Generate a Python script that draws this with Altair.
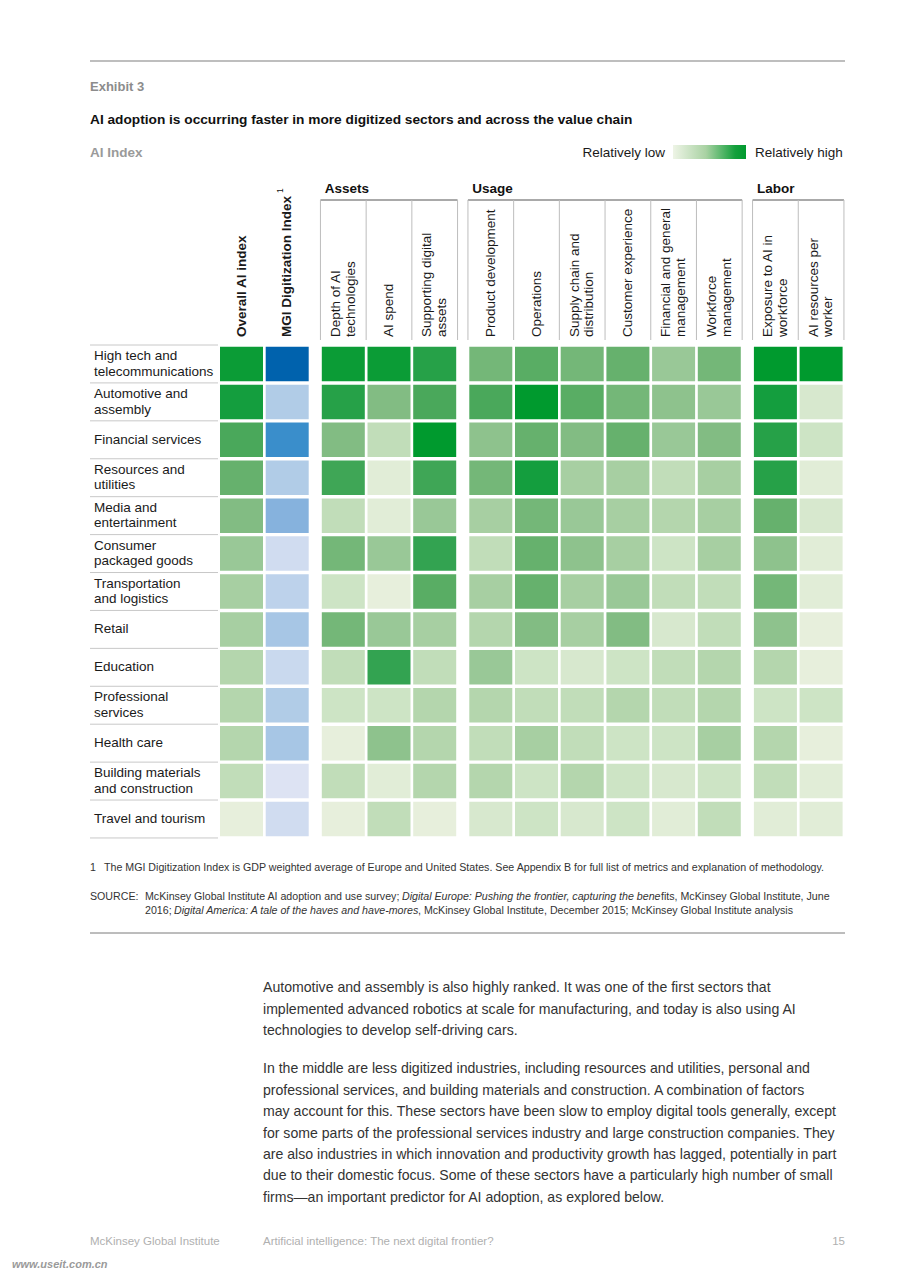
import altair as alt
import pandas as pd

# ---------------- data ----------------
sectors = [
    "High tech and\ntelecommunications", "Automotive and\nassembly", "Financial services",
    "Resources and\nutilities", "Media and\nentertainment", "Consumer\npackaged goods",
    "Transportation\nand logistics", "Retail", "Education", "Professional\nservices",
    "Health care", "Building materials\nand construction", "Travel and tourism",
]

metrics = [
    "Overall AI index", "MGI Digitization Index",
    "Depth of AI\ntechnologies", "AI spend", "Supporting digital\nassets",
    "Product development", "Operations", "Supply chain and\ndistribution",
    "Customer experience", "Financial and general\nmanagement", "Workforce\nmanagement",
    "Exposure to AI in\nworkforce", "AI resources per\nworker",
]
metric_group = [0, 0, 1, 1, 1, 2, 2, 2, 2, 2, 2, 3, 3]
group_names = ["", "Assets", "Usage", "Labor"]

# relative intensity 0 (low) .. 10 (high)
overall_ai       = [9.5, 9.0, 7.0, 6.0, 5.0, 4.0, 3.5, 3.5, 3.0, 3.0, 3.0, 2.5, 0.5]
mgi_digitization = [10, 3.0, 7.5, 3.0, 5.0, 1.5, 2.5, 3.5, 2.0, 3.0, 3.5, 0.5, 1.5]
depth_ai         = [9.5, 8.5, 5.0, 7.5, 2.5, 5.5, 2.0, 5.5, 2.5, 2.0, 0.5, 2.5, 0.5]
ai_spend         = [9.5, 5.0, 2.5, 1.0, 1.0, 4.0, 0.5, 4.0, 8.0, 2.0, 4.5, 1.0, 2.5]
digital_assets   = [8.5, 7.0, 10, 7.5, 4.0, 8.0, 6.5, 3.5, 2.5, 3.0, 3.0, 3.0, 0.5]
product_dev      = [5.5, 7.0, 4.5, 5.5, 3.5, 2.5, 3.5, 3.0, 4.0, 3.0, 2.5, 3.0, 1.5]
operations       = [6.5, 10, 6.0, 9.0, 5.5, 6.0, 6.0, 5.0, 2.0, 2.5, 3.5, 2.0, 2.0]
supply_chain     = [5.5, 6.5, 5.0, 3.5, 4.0, 4.5, 3.5, 3.5, 1.5, 2.5, 2.5, 3.0, 1.5]
customer_exp     = [6.0, 5.5, 6.0, 3.5, 3.5, 3.5, 4.0, 5.0, 2.0, 3.0, 2.0, 2.0, 2.0]
fin_management   = [4.0, 4.5, 4.0, 2.5, 3.0, 2.0, 2.5, 1.5, 2.5, 2.5, 2.0, 1.5, 1.0]
workforce_mgmt   = [5.5, 4.0, 5.0, 3.5, 3.5, 3.5, 2.5, 2.5, 3.0, 3.0, 3.5, 2.0, 2.5]
exposure_ai      = [10, 9.0, 8.5, 8.5, 6.0, 4.5, 5.5, 4.5, 3.0, 2.0, 3.0, 2.5, 1.0]
ai_res_worker    = [10, 1.5, 2.0, 1.0, 1.5, 1.0, 1.0, 0.5, 0.5, 2.0, 0.5, 1.0, 1.0]

columns_values = [overall_ai, mgi_digitization, depth_ai, ai_spend, digital_assets,
                  product_dev, operations, supply_chain, customer_exp, fin_management,
                  workforce_mgmt, exposure_ai, ai_res_worker]

title_text = "AI adoption is occurring faster in more digitized sectors and across the value chain"
footnote_text = ("The MGI Digitization Index is GDP weighted average of Europe and United States. "
                 "See Appendix B for full list of metrics and explanation of methodology.")
body_lines = [
    "Automotive and assembly is also highly ranked. It was one of the first sectors that",
    "implemented advanced robotics at scale for manufacturing, and today is also using AI",
    "technologies to develop self-driving cars.",
    "In the middle are less digitized industries, including resources and utilities, personal and",
    "professional services, and building materials and construction. A combination of factors",
    "may account for this. These sectors have been slow to employ digital tools generally, except",
    "for some parts of the professional services industry and large construction companies. They",
    "are also industries in which innovation and productivity growth has lagged, potentially in part",
    "due to their domestic focus. Some of these sectors have a particularly high number of small",
    "firms\u2014an important predictor for AI adoption, as explored below.",
]

# ---------------- layout ----------------
MARGIN = 8
W, H = 889, 1264
STEP = 45.7
X0 = 220 - MARGIN
EXTRA = 10.4 / STEP
CW = 43 / STEP
ROWH = 37.92
Y0 = 345 - MARGIN
FONT = "Liberation Sans"
ROW_LH = 15.5
HDR_LH = 14.5

xscale = alt.Scale(domain=[-X0 / STEP, (W - X0) / STEP], nice=False, zero=False)
yscale = alt.Scale(domain=[-Y0 / ROWH, (H - Y0) / ROWH], nice=False, zero=False, reverse=True)

green_dom = [0, 1, 2, 3, 4, 5, 6, 7, 8, 9, 10]
green_rng = ["#ecf2e2", "#e1edd7", "#cde4c5", "#b4d6ad", "#99c897", "#82bc83",
             "#66b16d", "#4aa85b", "#33a351", "#149e3e", "#009a2e"]
blue_dom = [0, 2, 3, 4, 5, 7.5, 10]
blue_rng = ["#e3e6f4", "#c9d9ee", "#b1cce7", "#9dc0e3", "#86b2dd", "#3a8ecb", "#0062ad"]

col_x = [j + EXTRA * g for j, g in enumerate(metric_group)]

cells = []
for j, vals in enumerate(columns_values):
    for i, v in enumerate(vals):
        cells.append({"metric": metrics[j].replace("\n", " "), "sector": sectors[i].replace("\n", " "),
                      "v": v, "x0": col_x[j], "x1": col_x[j] + CW,
                      "y0": i + 0.045, "y1": i + 0.955,
                      "kind": "blue" if j == 1 else "green"})
cells = pd.DataFrame(cells)

base_cells = alt.Chart(cells).mark_rect().encode(
    x=alt.X("x0:Q", scale=xscale, axis=None),
    x2="x1:Q",
    y=alt.Y("y0:Q", scale=yscale, axis=None),
    y2="y1:Q",
    tooltip=["sector:N", "metric:N", "v:Q"],
)
green_layer = base_cells.transform_filter("datum.kind == 'green'").encode(
    color=alt.Color("v:Q", scale=alt.Scale(domain=green_dom, range=green_rng), legend=None))
blue_layer = base_cells.transform_filter("datum.kind == 'blue'").encode(
    color=alt.Color("v:Q", scale=alt.Scale(domain=blue_dom, range=blue_rng), legend=None))

# row labels (multi-line blocks centred in their row) + separators
rows_df = pd.DataFrame({
    "sector": sectors,
    "yc": [i + 0.5 - (s.count("\n") * ROW_LH / 2) / ROWH for i, s in enumerate(sectors)],
})
row_labels = alt.Chart(rows_df).mark_text(
    align="left", baseline="middle", lineBreak="\n", lineHeight=ROW_LH,
    font=FONT, fontSize=13.5, color="#1a1a1a"
).encode(x=alt.value(94 - MARGIN), y=alt.Y("yc:Q", scale=yscale, axis=None), text="sector:N")

sep_df = pd.DataFrame({"yb": list(range(len(sectors) + 1))})
row_seps = alt.Chart(sep_df).mark_rule(color="#c8c8c8", strokeWidth=1).encode(
    x=alt.value(90 - MARGIN), x2=alt.value(218 - MARGIN),
    y=alt.Y("yb:Q", scale=yscale, axis=None))

# column headers (rotated; multi-line blocks centred on their column)
hdr_df = pd.DataFrame({
    "metric": metrics,
    "xc": [x + CW / 2 - (m.count("\n") * HDR_LH / 2) / STEP for x, m in zip(col_x, metrics)],
    "bold": [j < 2 for j in range(len(metrics))],
})
hdr_common = dict(align="left", baseline="middle", angle=270, lineBreak="\n",
                  lineHeight=HDR_LH, font=FONT, fontSize=13.5, color="#1a1a1a")
hdr_normal = alt.Chart(hdr_df).transform_filter("!datum.bold").mark_text(**hdr_common).encode(
    x=alt.X("xc:Q", scale=xscale, axis=None), y=alt.value(337 - MARGIN), text="metric:N")
hdr_bold = alt.Chart(hdr_df).transform_filter("datum.bold").mark_text(
    fontWeight="bold", **hdr_common).encode(
    x=alt.X("xc:Q", scale=xscale, axis=None), y=alt.value(337 - MARGIN), text="metric:N")

half_gap = (1 - CW) / 2
vlines, hlines = [], []
for g in (1, 2, 3):
    js = [j for j, gg in enumerate(metric_group) if gg == g]
    for j in js:
        vlines.append({"xb": col_x[j] - half_gap})
    right = col_x[js[-1]] + CW + half_gap
    vlines.append({"xb": right})
    hlines.append({"xs": col_x[js[0]] - half_gap, "xe": right})
vlines = pd.DataFrame(vlines)
hlines = pd.DataFrame(hlines)
hdr_vrules = alt.Chart(vlines).mark_rule(color="#bdbdbd", strokeWidth=1).encode(
    x=alt.X("xb:Q", scale=xscale, axis=None), y=alt.value(200 - MARGIN), y2=alt.value(340 - MARGIN))
hdr_hrules = alt.Chart(hlines).mark_rule(color="#555555", strokeWidth=1).encode(
    x=alt.X("xs:Q", scale=xscale, axis=None), x2="xe:Q", y=alt.value(200 - MARGIN))


def text_layer(items, **kw):
    df = pd.DataFrame(items, columns=["text", "px", "py"])
    df["px"] = df["px"] - MARGIN
    df["py"] = df["py"] - MARGIN
    props = dict(align="left", baseline="alphabetic", font=FONT)
    props.update(kw)
    return alt.Chart(df).mark_text(**props).encode(
        x=alt.X("px:Q", scale=None, axis=None), y=alt.Y("py:Q", scale=None, axis=None),
        text="text:N")


group_hdr = text_layer([(group_names[g], col_x[metric_group.index(g)] * STEP + X0 + MARGIN + 3, 193)
                        for g in (1, 2, 3)], fontSize=13.5, fontWeight="bold", color="#111111")
superscript = text_layer([("1", 280, 193)], angle=270, baseline="middle", fontSize=8.5, color="#111111")

exhibit = text_layer([("Exhibit 3", 90, 91)], fontSize=13, fontWeight="bold", color="#8c8c8c")
title = text_layer([(title_text, 90, 124)], fontSize=13.7, fontWeight="bold", color="#111111")
ai_index = text_layer([("AI Index", 90, 157)], fontSize=13.5, fontWeight="bold", color="#9a9a9a")
leg_low = text_layer([("Relatively low", 665, 157)], align="right", fontSize=13.5, color="#1a1a1a")
leg_high = text_layer([("Relatively high", 755, 157)], fontSize=13.5, color="#1a1a1a")

gradient = alt.Chart(pd.DataFrame({"k": [0]})).mark_rect(color={
    "gradient": "linear", "x1": 0, "x2": 1, "y1": 0, "y2": 0,
    "stops": [{"offset": 0, "color": "#eef4e6"}, {"offset": 0.45, "color": "#a9d2a3"},
              {"offset": 0.85, "color": "#14a03c"}, {"offset": 1, "color": "#009a2e"}]}
).encode(x=alt.value(673 - MARGIN), x2=alt.value(746 - MARGIN),
         y=alt.value(145 - MARGIN), y2=alt.value(159 - MARGIN))

top_rule = alt.Chart(pd.DataFrame({"k": [0]})).mark_rule(color="#a8a8a8", strokeWidth=1.6).encode(
    x=alt.value(90 - MARGIN), x2=alt.value(845 - MARGIN), y=alt.value(61 - MARGIN))
bottom_rule = alt.Chart(pd.DataFrame({"k": [0]})).mark_rule(color="#7a7a7a", strokeWidth=1).encode(
    x=alt.value(90 - MARGIN), x2=alt.value(845 - MARGIN), y=alt.value(933 - MARGIN))

SRC = dict(fontSize=10.65, color="#333333")
footnote = text_layer([("1", 90, 871), (footnote_text, 104, 871)], **SRC)
source_reg = text_layer([
    ("SOURCE:", 90, 900),
    ("McKinsey Global Institute AI adoption and use survey;", 145, 900),
    ("fits, McKinsey Global Institute, June", 661, 900),
    ("2016;", 145, 914),
    (", McKinsey Global Institute, December 2015; McKinsey Global Institute analysis", 418, 914),
], **SRC)
source_it = text_layer([
    ("Digital Europe: Pushing the frontier, capturing the bene", 402, 900),
    ("Digital America: A tale of the haves and have-mores", 174, 914),
], fontStyle="italic", **SRC)

body_y = [992, 1014, 1035, 1073, 1095, 1116, 1138, 1159, 1180, 1202]
body = text_layer([(t, 263, y) for t, y in zip(body_lines, body_y)], fontSize=14.1, color="#333333")

footer = text_layer([("McKinsey Global Institute", 90, 1245),
                     ("Artificial intelligence: The next digital frontier?", 263, 1245)],
                    fontSize=11.5, color="#b0b0b0")
footer_num = text_layer([("15", 845, 1245)], align="right", fontSize=11.5, color="#b0b0b0")
watermark = text_layer([("www.useit.com.cn", 12, 1268)], fontSize=11, fontStyle="italic",
                       fontWeight="bold", color="#9a9a9a")

chart = alt.layer(
    top_rule, exhibit, title, ai_index, leg_low, gradient, leg_high,
    group_hdr, hdr_hrules, hdr_vrules, hdr_normal, hdr_bold, superscript,
    row_seps, row_labels, green_layer, blue_layer,
    footnote, source_reg, source_it, bottom_rule, body, footer, footer_num, watermark,
).resolve_scale(color="independent").properties(
    width=W, height=H, autosize=alt.AutoSizeParams(type="none"), padding=0, background="white"
).configure_view(strokeWidth=0)

chart.save("out.html", embed_options={"renderer": "svg", "actions": False})
